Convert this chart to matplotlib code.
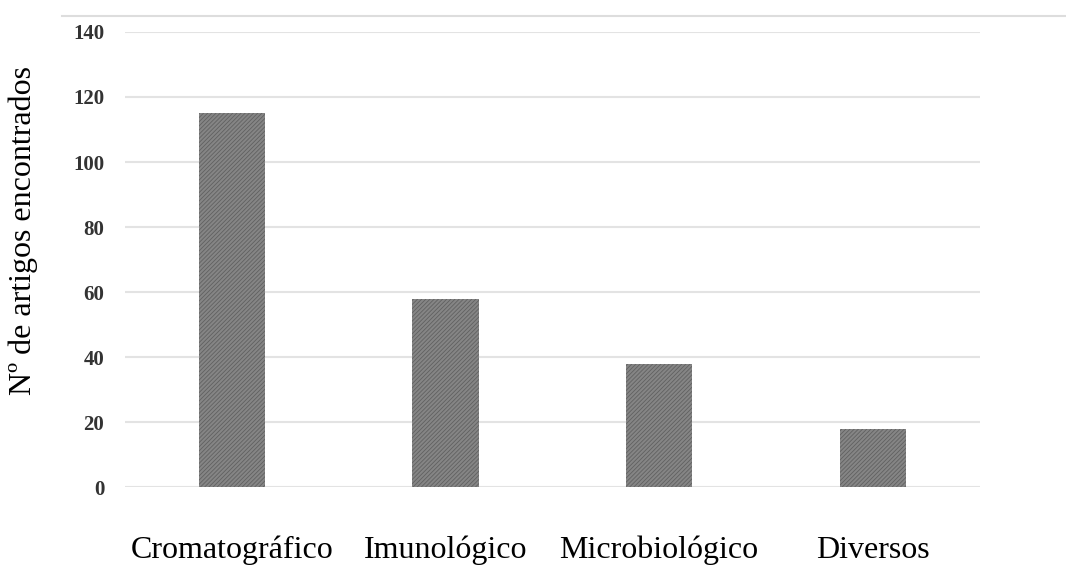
import numpy as np
import matplotlib.pyplot as plt
from matplotlib.lines import Line2D

categories = ["Cromatográfico", "Imunológico", "Microbiológico", "Diversos"]
counts = [115, 58, 38, 18]
yticks = [0, 20, 40, 60, 80, 100, 120, 140]

plt.rcParams['hatch.linewidth'] = 0.6

fig = plt.figure(figsize=(10.66, 5.67), dpi=100)
ax = fig.add_axes([0.1173, 0.141, 0.8017, 0.8026])

x = np.arange(len(categories))
ax.bar(x, counts, width=0.31, color="#858585", edgecolor="#606060",
       hatch="////////", linewidth=0, zorder=3)

ax.set_xlim(-0.5, 3.5)
ax.set_ylim(0, 140)
ax.set_yticks(yticks)
ax.set_yticklabels([str(t) for t in yticks], fontfamily="Liberation Serif",
                   fontweight="bold", fontsize=15, color="#333333")
ax.set_xticks(x)
ax.set_xticklabels(categories, fontfamily="Liberation Serif", fontsize=23)
ax.tick_params(axis="x", length=0, pad=35)
ax.tick_params(axis="y", length=0, pad=15)
ax.grid(axis="y", color="#e3e3e3", linewidth=1.5, zorder=0)
for s in ax.spines.values():
    s.set_visible(False)

ax.set_ylabel("Nº de artigos encontrados", fontfamily="Liberation Serif",
              fontsize=23)
ax.yaxis.set_label_coords(-0.102, 0.563)

# thin line across the top of the figure
fig.add_artist(Line2D([0.058, 1.0], [0.972, 0.972], color="#dddddd",
                      linewidth=1.5, transform=fig.transFigure))

fig.savefig("out.png", dpi=100, facecolor="white")
